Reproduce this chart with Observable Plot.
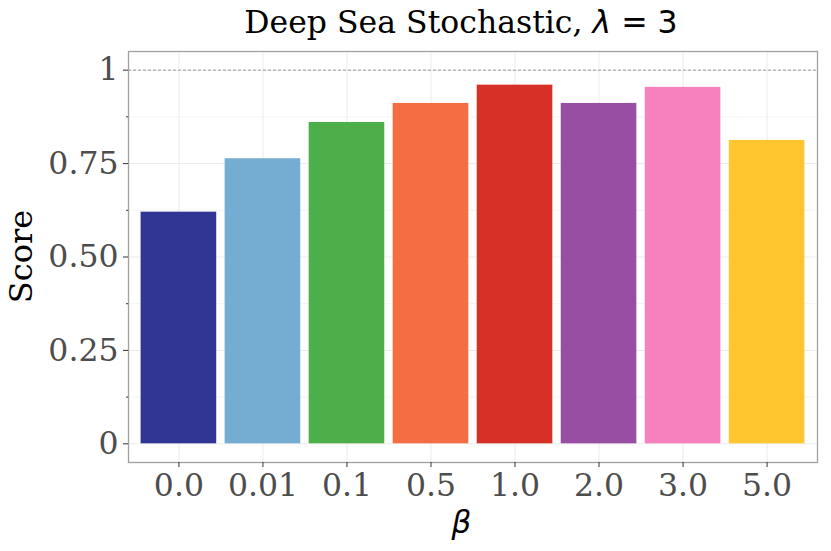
<!DOCTYPE html>
<html>
<head>
<meta charset="utf-8">
<script src="https://cdn.jsdelivr.net/npm/d3@7"></script>
<script src="https://cdn.jsdelivr.net/npm/@observablehq/plot@0.6"></script>
<style>
  html, body { margin: 0; padding: 0; background: #fff; }
</style>
</head>
<body>
<div id="chart"></div>
<script>
const betas = ["0.0", "0.01", "0.1", "0.5", "1.0", "2.0", "3.0", "5.0"];
const scores = [0.620, 0.763, 0.860, 0.911, 0.960, 0.911, 0.954, 0.812];
const colors = ["#313695", "#74add1", "#4daf4a", "#f46d43", "#d73027", "#984ea3", "#f781bf", "#ffc62f"];
const yTicks = [0, 0.25, 0.5, 0.75, 1];
const yTickLabels = ["0", "0.25", "0.50", "0.75", "1"];
const yMinor = [0.125, 0.375, 0.625, 0.875];
const titleText = "Deep Sea Stochastic, ";
const titleMath = ["λ", " = 3"];
const yLabel = "Score";
const xLabel = "β";

const data = betas.map((b, i) => ({beta: b, score: scores[i], color: colors[i]}));

const W = 831, H = 551;
const mL = 128, mR = 14, mT = 51, mB = 89;

const plot = Plot.plot({
  width: W,
  height: H,
  marginLeft: mL,
  marginRight: mR,
  marginTop: mT,
  marginBottom: mB,
  style: {fontFamily: "DejaVu Serif", fontSize: "31px", background: "#fff"},
  x: {domain: betas, paddingInner: 0.1, paddingOuter: 0.15, align: 0.5, round: false, axis: null},
  y: {domain: [-0.05, 1.05], axis: null},
  marks: [
    Plot.ruleY(yMinor, {stroke: "#f4f4f4", strokeWidth: 1}),
    Plot.ruleY(yTicks, {stroke: "#ebebeb", strokeWidth: 1}),
    Plot.ruleX(betas, {x: d => d, stroke: "#ebebeb", strokeWidth: 1}),
    Plot.barY(data, {x: "beta", y: "score", fill: "color"}),
    Plot.ruleY([1], {stroke: "#999", strokeWidth: 1, strokeDasharray: "3,2"}),
    Plot.frame({stroke: "#a0a0a0", strokeWidth: 1.3}),
    Plot.axisY(yMinor, {tickSize: 2, text: null, stroke: "#333", label: null}),
    Plot.axisY(yTicks, {tickSize: 5, tickPadding: 5, tickFormat: (d, i) => yTickLabels[i], stroke: "#333", fill: "#4d4d4d", fontSize: 31.5, label: null}),
    Plot.axisX({tickSize: 5, tickPadding: 6, stroke: "#333", fill: "#4d4d4d", fontSize: 31.5, label: null})
  ]
});

document.getElementById("chart").appendChild(plot);

const svg = d3.select(plot);
const panelCx = mL + (W - mL - mR) / 2;

const t = svg.append("text")
  .attr("x", 461)
  .attr("y", 33)
  .attr("text-anchor", "middle")
  .attr("fill", "#000")
  .style("font-family", "DejaVu Serif")
  .style("font-size", "31.5px");
t.append("tspan").text(titleText);
t.append("tspan").style("font-family", "DejaVu Sans").style("font-style", "italic").text(titleMath[0]);
t.append("tspan").style("font-family", "DejaVu Sans").text(titleMath[1]);

svg.append("text")
  .attr("transform", `translate(32, ${(mT + (H - mB)) / 2}) rotate(-90)`)
  .attr("text-anchor", "middle")
  .attr("fill", "#000")
  .style("font-family", "DejaVu Serif")
  .style("font-size", "32px")
  .text(yLabel);

svg.append("text")
  .attr("x", panelCx - 11)
  .attr("y", 533)
  .attr("text-anchor", "middle")
  .attr("fill", "#000")
  .style("font-family", "DejaVu Sans")
  .style("font-style", "italic")
  .style("font-size", "31px")
  .text(xLabel);
</script>
</body>
</html>
